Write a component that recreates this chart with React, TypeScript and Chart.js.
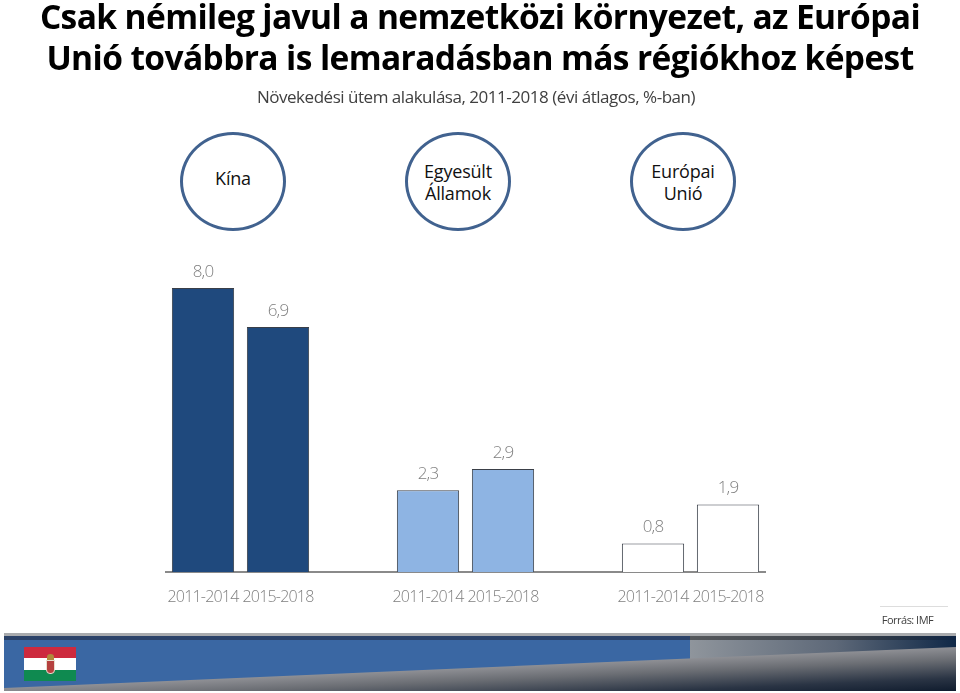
import React, { useEffect, useRef } from "react";
import { Chart, registerables } from "chart.js";

Chart.register(...registerables);

const categories = ["2011-2014", "2015-2018", "", "2011-2014", "2015-2018", "", "2011-2014", "2015-2018"];
const values = [8.0, 6.9, null, 2.3, 2.9, null, 0.8, 1.9];
const barColors = ["#1f497d", "#1f497d", "#ffffff", "#8eb4e3", "#8eb4e3", "#ffffff", "#ffffff", "#ffffff"];
const titleLines = ["Csak némileg javul a nemzetközi környezet, az Európai", "Unió továbbra is lemaradásban más régiókhoz képest"];
const subtitle = "Növekedési ütem alakulása, 2011-2018 (évi átlagos, %-ban)";
const regions = [["Kína"], ["Egyesült", "Államok"], ["Európai", "Unió"]];
const regionCenters = [233, 458, 683];
const source = "Forrás: IMF";

const LABEL_FONT = '"Open Sans", "Noto Sans", sans-serif';

const tightText = {
  id: "tightText",
  beforeDraw(chart: any) {
    chart.ctx.letterSpacing = "-0.8px";
  },
};

const valueLabels = {
  id: "valueLabels",
  afterDatasetsDraw(chart: any) {
    const ctx = chart.ctx;
    const meta = chart.getDatasetMeta(0);
    ctx.save();
    ctx.font = `300 17px ${LABEL_FONT}`;
    ctx.fillStyle = "#7f7f7f";
    ctx.textAlign = "center";
    ctx.textBaseline = "middle";
    meta.data.forEach((bar: any, i: number) => {
      const v = values[i];
      if (v == null) return;
      ctx.fillText(v.toFixed(1).replace(".", ","), bar.x, bar.y - 16);
    });
    ctx.restore();
  },
};

function abs(left: number, top: number, width: number, height: number, extra: React.CSSProperties = {}): React.CSSProperties {
  return { position: "absolute", left, top, width, height, ...extra };
}

export default function App() {
  const ref = useRef<HTMLCanvasElement>(null);
  useEffect(() => {
    const chart = new Chart(ref.current!, {
      type: "bar",
      data: {
        labels: categories,
        datasets: [{
          data: values,
          backgroundColor: barColors,
          borderColor: "#3a3f48",
          borderWidth: 1,
          barPercentage: 0.83,
          categoryPercentage: 1,
        }],
      },
      plugins: [tightText, valueLabels],
      options: {
        responsive: false,
        animation: false,
        layout: { padding: { left: 165.5, right: 194.5, top: 270.25, bottom: 0 } },
        plugins: { legend: { display: false }, tooltip: { enabled: false } },
        scales: {
          x: {
            border: { display: true, color: "#8a8a8a", width: 2 },
            grid: { display: false },
            afterFit(scale: any) { scale.height = 121; },
            ticks: {
              autoSkip: false,
              maxRotation: 0,
              minRotation: 0,
              padding: 8,
              color: "#7f7f7f",
              font: { family: LABEL_FONT, size: 16, weight: "300" },
            },
          },
          y: { display: false, min: 0, max: 8.5 },
        },
      },
    });
    return () => chart.destroy();
  }, []);

  return (
    <div style={{ position: "fixed", left: 0, top: 0, width: 960, height: 693, overflow: "hidden", background: "#fff", fontFamily: LABEL_FONT }}>
      <canvas ref={ref} width={960} height={693} style={{ position: "absolute", left: 0, top: 0 }} />

      {titleLines.map((t, i) => (
        <div key={i} style={abs(0, i === 0 ? -4 : 37, 960, 40, { textAlign: "center", font: `700 33.5px/40px ${LABEL_FONT}`, letterSpacing: "-0.6px", color: "#000", whiteSpace: "nowrap" })}>{t}</div>
      ))}
      <div style={abs(0, 84, 952, 26, { textAlign: "center", font: `400 17px/26px ${LABEL_FONT}`, letterSpacing: "-0.47px", color: "#404040", whiteSpace: "nowrap" })}>{subtitle}</div>

      {regions.map((lines, i) => (
        <div key={i} style={abs(regionCenters[i] - 53, 132, 106, 99, {
          boxSizing: "border-box", border: "3px solid #41628f", borderRadius: "50%",
          display: "flex", flexDirection: "column", alignItems: "center", justifyContent: "center",
          paddingBottom: lines.length === 1 ? 8 : 0,
          font: `400 18px/22px ${LABEL_FONT}`, letterSpacing: "-0.2px", color: "#111", background: "#fff",
        })}>
          {lines.map((l) => <div key={l}>{l}</div>)}
        </div>
      ))}

      <div style={abs(880, 606, 68, 1, { background: "#dddddd" })} />
      <div style={abs(860, 612, 95, 16, { textAlign: "center", font: `400 11px/16px ${LABEL_FONT}`, letterSpacing: "-0.5px", color: "#404040" })}>{source}</div>

      <div style={abs(4, 633, 952, 3, { background: "#a9abae" })} />
      <div style={abs(4, 636, 686, 4, { background: "#2b4269" })} />
      <div style={abs(690, 636, 266, 4, { background: "linear-gradient(to right,#55585c,#3a4048 60%,#0f2544)" })} />
      <div style={abs(4, 640, 686, 51, { background: "#3a67a3" })} />
      <div style={abs(690, 640, 266, 51, { background: "linear-gradient(to right,#8f959c,#5d6878 55%,#0f2847)" })} />
      <div style={abs(4, 640, 952, 51, {
        clipPath: "polygon(0 48px, 100% 7px, 100% 100%, 0 100%)",
        background: "linear-gradient(177.5deg,#8f9095 52%,#6a6d73 66%,#2a3444 86%,#101c2e 100%)",
      })} />

      <div style={abs(24, 647, 52, 11, { background: "#cd2a3e" })} />
      <div style={abs(24, 658, 52, 12, { background: "#ffffff" })} />
      <div style={abs(24, 670, 52, 11, { background: "#0f8a50" })} />
      <div style={abs(46, 660, 9, 14, { background: "#b5413f", border: "1px solid #e8e0d0", boxSizing: "border-box", borderRadius: "0 0 4px 4px" })} />
      <div style={abs(47, 654, 7, 6, { background: "#b08a3c", borderRadius: "50% 50% 0 0" })} />
    </div>
  );
}
